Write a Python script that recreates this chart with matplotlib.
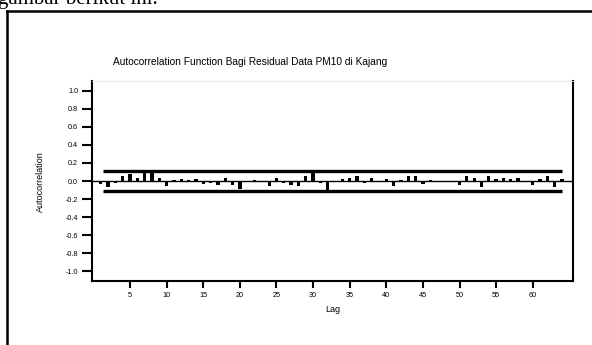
import matplotlib.pyplot as plt
from matplotlib.lines import Line2D

# ACF values of the residuals, lags 1..64
lags = list(range(1, 65))
acf = [-0.03, -0.07, -0.02, 0.05, 0.08, 0.03, 0.10, 0.09, 0.03, -0.06,
       0.01, 0.02, 0.01, 0.02, -0.03, -0.02, -0.04, 0.03, -0.04, -0.09,
       0.00, 0.01, -0.01, -0.06, 0.03, -0.02, -0.04, -0.06, 0.05, 0.09,
       -0.02, -0.10, 0.00, 0.02, 0.03, 0.06, -0.02, 0.03, -0.01, 0.02,
       -0.06, 0.01, 0.06, 0.05, -0.03, 0.01, -0.01, 0.00, -0.01, -0.04,
       0.06, 0.03, -0.07, 0.06, 0.02, 0.03, 0.02, 0.03, -0.01, -0.04,
       0.02, 0.06, -0.07, 0.02]
conf_limit = 0.11
yticks = [-1.0, -0.8, -0.6, -0.4, -0.2, 0.0, 0.2, 0.4, 0.6, 0.8, 1.0]
xticks = [5, 10, 15, 20, 25, 30, 35, 40, 45, 50, 55, 60]

plt.rcParams['font.family'] = ['Liberation Sans', 'DejaVu Sans']

fig = plt.figure(figsize=(5.92, 3.45), dpi=100)
ax = fig.add_axes([92 / 592, 1 - 281 / 345, (573 - 92) / 592, (281 - 81) / 345])

ax.bar(lags, acf, width=0.45, color='black')
ax.axhline(0, color='black', lw=1)
ax.plot([lags[0] + 0.3, lags[-1]], [conf_limit, conf_limit], color='black', lw=2.4, solid_capstyle='butt')
ax.plot([lags[0] + 0.3, lags[-1]], [-conf_limit, -conf_limit], color='black', lw=2.4, solid_capstyle='butt')

ax.set_xlim(-0.2, 65.5)
ax.set_ylim(-1.11, 1.11)
ax.set_yticks(yticks)
ax.set_yticklabels([f"{v:.1f}" for v in yticks])
ax.set_xticks(xticks)

ax.tick_params(axis='y', length=7, width=1.5, pad=3, labelsize=5.2)
ax.tick_params(axis='x', length=5, width=1.5, pad=3, labelsize=5.2)

for side in ['left', 'bottom', 'right']:
    ax.spines[side].set_linewidth(1.5)
ax.spines['top'].set_color('#e6e6e6')
ax.spines['top'].set_linewidth(0.6)

ax.set_xlabel("Lag", fontsize=6.5, labelpad=4)
fig.text(40 / 592, 1 - 182 / 345, "Autocorrelation", rotation=90, fontsize=6.5,
         ha='center', va='center')
fig.text(250 / 592, 1 - 62 / 345, "Autocorrelation Function Bagi Residual Data PM10 di Kajang",
         fontsize=7.3, ha='center', va='center')

# surrounding document page bits (cut off at the top, as in the screenshot)
fig.text(-0.003, 1 - 4 / 345, "gambar berikut ini.", fontsize=15,
         family='Liberation Serif', ha='left', va='baseline')
fig.add_artist(Line2D([7 / 592, 1], [1 - 11 / 345, 1 - 11 / 345], color='black', lw=1.8,
                      transform=fig.transFigure))
fig.add_artist(Line2D([7 / 592, 7 / 592], [0, 1 - 11 / 345], color='black', lw=1.8,
                      transform=fig.transFigure))

fig.savefig("out.png", dpi=100)
